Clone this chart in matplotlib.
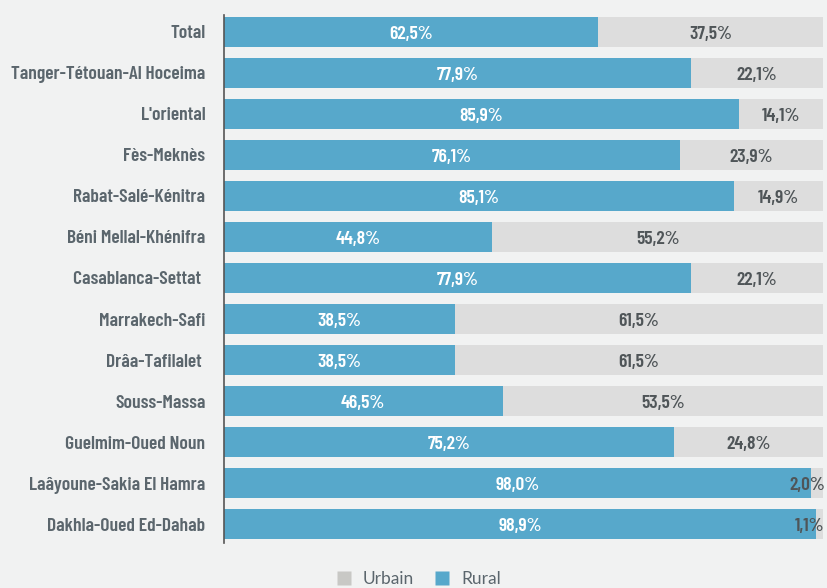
import numpy as np
import matplotlib
matplotlib.use('Agg')
from matplotlib import pyplot as plt
from matplotlib.lines import Line2D

# Data
regions = ['Total', 'Tanger-Tétouan-Al Hoceima', "L'oriental", 'Fès-Meknès',
           'Rabat-Salé-Kénitra', 'Béni Mellal-Khénifra', 'Casablanca-Settat ',
           'Marrakech-Safi', 'Drâa-Tafilalet ', 'Souss-Massa', 'Guelmim-Oued Noun',
           'Laâyoune-Sakia El Hamra', 'Dakhla-Oued Ed-Dahab']
rural = [62.5, 77.9, 85.9, 76.1, 85.1, 44.8, 77.9, 38.5, 38.5, 46.5, 75.2, 98.0, 98.9]
urbain = [37.5, 22.1, 14.1, 23.9, 14.9, 55.2, 22.1, 61.5, 61.5, 53.5, 24.8, 2.0, 1.1]

BG = '#f1f2f2'
BLUE = '#57a8cb'
GREY = '#dddddd'
TXT = '#5b666d'
DARK = '#4f5558'

plt.rcParams['font.family'] = ['Barlow Condensed', 'DejaVu Sans']

fig = plt.figure(figsize=(8.27, 5.88), dpi=100, facecolor=BG)
ax = fig.add_axes([224 / 827, 1 - 543 / 588, 599 / 827, 528 / 588])
ax.set_facecolor(BG)

y = np.arange(len(regions))
ax.barh(y, rural, height=0.72, color=BLUE, edgecolor='none')
ax.barh(y, urbain, left=rural, height=0.72, color=GREY, edgecolor='none')

def fmt(v):
    return f'{v:.1f}%'.replace('.', ',')

# value labels, nudged a little below the bar centre like the original
for i in range(len(regions)):
    yy = i + 0.06
    ax.text(rural[i] / 2, yy, fmt(rural[i]), ha='center', va='center',
            color='white', fontsize=14, fontweight='semibold')
    if urbain[i] < 5:
        ax.text(100.3, yy, fmt(urbain[i]), ha='right', va='center',
                color=DARK, fontsize=14, fontweight='semibold', clip_on=False)
    else:
        ax.text(rural[i] + urbain[i] / 2, yy, fmt(urbain[i]), ha='center', va='center',
                color=DARK, fontsize=14, fontweight='semibold')

ax.set_xlim(0, 100)
ax.set_ylim(12.46, -0.41)
ax.set_yticks(y)
ax.set_yticklabels(regions, fontsize=14, fontweight='semibold', color=TXT)
ax.set_xticks([])
ax.tick_params(axis='y', length=0, pad=13.5)
for s in ['top', 'right', 'bottom']:
    ax.spines[s].set_visible(False)
ax.spines['left'].set_color('#555555')
ax.spines['left'].set_linewidth(1.2)

handles = [Line2D([], [], marker='s', linestyle='none', markersize=10,
                  markerfacecolor='#c8c8c5', markeredgecolor='none'),
           Line2D([], [], marker='s', linestyle='none', markersize=10,
                  markerfacecolor=BLUE, markeredgecolor='none')]
fig.legend(handles, ['Urbain', 'Rural'], loc='center', bbox_to_anchor=(0.5, 1 - 579 / 588),
           ncol=2, frameon=False, handletextpad=0.1, columnspacing=0.6,
           labelcolor=TXT, prop={'family': ['Lato', 'DejaVu Sans'], 'size': 12.5})

fig.savefig('out.png', dpi=100, facecolor=BG)
